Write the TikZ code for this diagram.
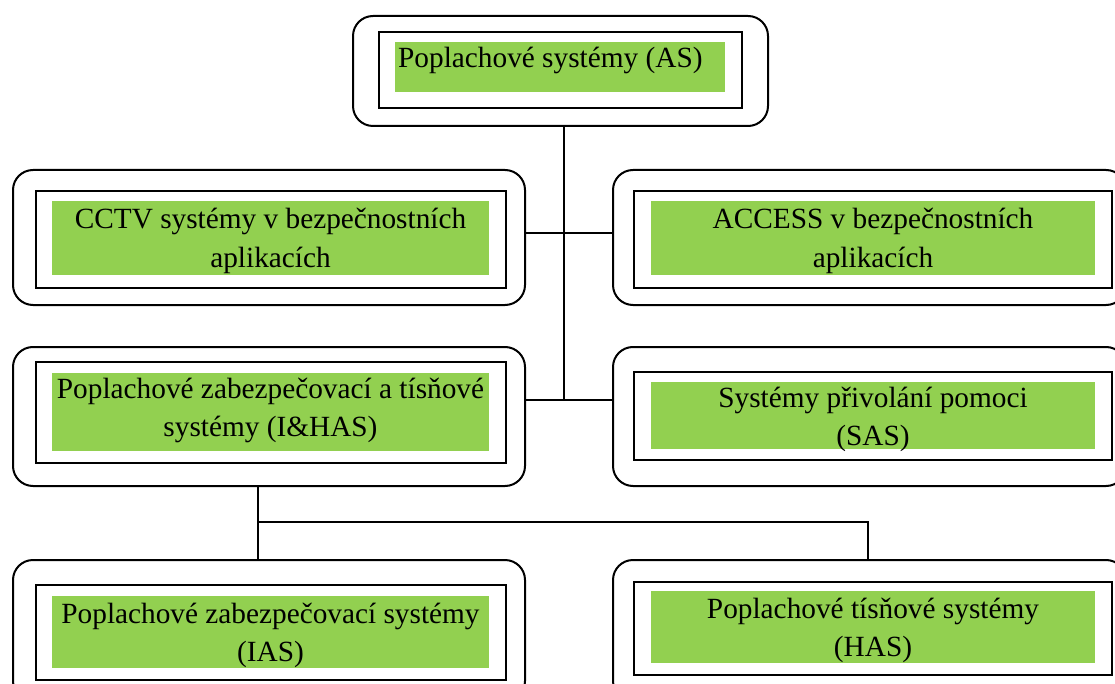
\documentclass[tikz,border=0pt]{standalone}
\usepackage{fontspec}
\setmainfont{Liberation Serif}
\definecolor{bandgreen}{HTML}{92D050}
\begin{document}
\begin{tikzpicture}[x=1pt,y=-1pt,
  frame/.style={draw, line width=2pt, rounded corners=20pt, inner sep=0pt, anchor=north west},
  innerbox/.style={draw, line width=1.8pt, inner sep=0pt, anchor=north west},
  band/.style={fill=bandgreen, inner sep=0pt, anchor=north west},
  txt/.style={inner sep=0pt, anchor=base, align=flush center,
    font=\fontsize{29.3}{38.5}\selectfont},
  link/.style={line width=1.7pt}]
\clip (0,0) rectangle (1115,684);

% top: alarm systems
\node[frame, minimum width=415pt, minimum height=110pt] (as) at (352,15) {};
\node[innerbox, minimum width=363pt, minimum height=76pt] (asI) at (378,31) {};
\node[band, minimum width=330pt, minimum height=50pt] (asG) at (395,42) {};
\node[txt, anchor=base west] (asT) at (398,68) {Poplachové systémy (AS)};

% second row
\node[frame, minimum width=512pt, minimum height=135pt] (cctv) at (12,169) {};
\node[innerbox, minimum width=470pt, minimum height=97pt] (cctvI) at (35,190) {};
\node[band, minimum width=437pt, minimum height=74pt] (cctvG) at (52,201) {};
\node[txt, text width=437pt] (cctvT) at (270.5,229) {CCTV systémy v bezpečnostních\\aplikacích};

\node[frame, minimum width=513pt, minimum height=135pt] (acc) at (612,169) {};
\node[innerbox, minimum width=478pt, minimum height=97pt] (accI) at (633,190) {};
\node[band, minimum width=444pt, minimum height=74pt] (accG) at (651,201) {};
\node[txt, text width=444pt] (accT) at (873,229) {ACCESS v bezpečnostních\\aplikacích};

% third row
\node[frame, minimum width=512pt, minimum height=139pt] (ihas) at (12,346) {};
\node[innerbox, minimum width=470pt, minimum height=101pt] (ihasI) at (35,361) {};
\node[band, minimum width=437pt, minimum height=78pt] (ihasG) at (52,373) {};
\node[txt, text width=437pt] (ihasT) at (270.5,398) {Poplachové zabezpečovací a tísňové\\systémy (I\&HAS)};

\node[frame, minimum width=513pt, minimum height=139pt] (sas) at (612,346) {};
\node[innerbox, minimum width=478pt, minimum height=88pt] (sasI) at (633,371) {};
\node[band, minimum width=444pt, minimum height=67pt] (sasG) at (651,382) {};
\node[txt, text width=444pt] (sasT) at (873,407) {Systémy přivolání pomoci\\(SAS)};

% bottom row
\node[frame, minimum width=512pt, minimum height=141pt] (ias) at (12,559) {};
\node[innerbox, minimum width=470pt, minimum height=95pt] (iasI) at (35,584) {};
\node[band, minimum width=437pt, minimum height=72pt] (iasG) at (52,596) {};
\node[txt, text width=437pt] (iasT) at (270.5,623) {Poplachové zabezpečovací systémy\\(IAS)};

\node[frame, minimum width=513pt, minimum height=141pt] (has) at (612,559) {};
\node[innerbox, minimum width=478pt, minimum height=93pt] (hasI) at (633,581) {};
\node[band, minimum width=444pt, minimum height=72pt] (hasG) at (651,591) {};
\node[txt, text width=444pt] (hasT) at (873,618) {Poplachové tísňové systémy\\(HAS)};

% connectors
\coordinate (trunk) at (564,0);
\coordinate (rowA) at (0,233);
\coordinate (rowB) at (0,400);
\coordinate (split) at (0,522);
\coordinate (dropL) at (258,0);
\coordinate (dropR) at (868,0);

\draw[link] (as.south -| trunk) -- (trunk |- rowB);
\draw[link] (rowA -| cctv.east) -- (rowA -| acc.west);
\draw[link] (rowB -| ihas.east) -- (rowB -| sas.west);
\draw[link] (ihas.south -| dropL) -- (dropL |- split) -- (dropR |- split) -- (has.north -| dropR);
\draw[link] (dropL |- split) -- (ias.north -| dropL);
\end{tikzpicture}
\end{document}
